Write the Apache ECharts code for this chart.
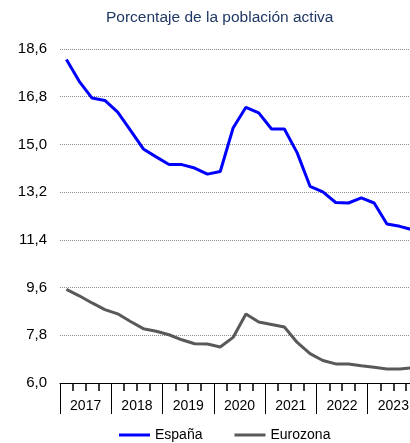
<!DOCTYPE html>
<html>
<head>
<meta charset="utf-8">
<script src="https://cdn.jsdelivr.net/npm/echarts@6/dist/echarts.min.js"></script>
<style>
  html, body { margin: 0; padding: 0; background: #fff; }
  #chart { width: 410px; height: 443px; }
</style>
</head>
<body>
<div id="chart"></div>
<script>
// Quarterly unemployment rate, 2017 Q1 – 2023 Q4 (% of labour force)
const years = ['2017', '2018', '2019', '2020', '2021', '2022', '2023'];
const quartersPerYear = 4;

const espana = [
  18.20, 17.38, 16.75, 16.66,
  16.22, 15.53, 14.83, 14.53,
  14.24, 14.24, 14.11, 13.88,
  13.98, 15.62, 16.40, 16.19,
  15.58, 15.58, 14.68, 13.42,
  13.21, 12.81, 12.79, 12.98,
  12.79, 12.00, 11.91, 11.78
];

const eurozona = [
  9.53, 9.29, 9.02, 8.77,
  8.61, 8.32, 8.05, 7.95,
  7.82, 7.63, 7.48, 7.47,
  7.36, 7.72, 8.60, 8.30,
  8.21, 8.11, 7.53, 7.11,
  6.85, 6.72, 6.72, 6.65,
  6.59, 6.53, 6.53, 6.57
];

const yMin = 6.0, yMax = 18.6, yStep = 1.8;

// each quarter sits in the middle of its slot on the time axis
const toPoints = arr => arr.map((v, i) => [i + 0.5, v]);
const nQuarters = years.length * quartersPerYear;

const chart = echarts.init(document.getElementById('chart'));
const font = "'Liberation Sans', Arial, sans-serif";

chart.setOption({
  animation: false,
  backgroundColor: '#ffffff',
  title: {
    text: 'Porcentaje de la población activa',
    left: 101,
    top: 5,
    textStyle: { color: '#203864', fontSize: 15.5, fontWeight: 'normal', fontFamily: font }
  },
  legend: {
    left: 114,
    top: 423,
    itemWidth: 31,
    itemHeight: 3,
    itemGap: 32,
    icon: 'rect',
    textStyle: { color: '#000', fontSize: 14, fontFamily: font },
    data: ['España', 'Eurozona']
  },
  grid: { left: 60, right: -9, top: 49, bottom: 60, outerBoundsMode: 'none' },
  xAxis: [
    {
      // time axis: long ticks at year boundaries, short ticks at quarters
      type: 'value',
      position: 'bottom',
      min: 0,
      max: nQuarters,
      interval: quartersPerYear,
      axisLine: { show: true, lineStyle: { color: '#000', width: 1 } },
      axisTick: { show: true, length: 31, lineStyle: { color: '#000', width: 1 } },
      minorTick: { show: true, splitNumber: quartersPerYear, length: 8, lineStyle: { color: '#000', width: 1.5 } },
      axisLabel: { show: false },
      splitLine: { show: false }
    },
    {
      // year names centred in each group
      type: 'category',
      position: 'bottom',
      data: years,
      axisLine: { show: false },
      axisTick: { show: false },
      axisLabel: { show: true, interval: 0, margin: 16, color: '#000', fontSize: 14, fontFamily: font }
    }
  ],
  yAxis: {
    type: 'value',
    min: yMin,
    max: yMax,
    interval: yStep,
    axisLine: { show: false },
    axisTick: { show: false },
    axisLabel: {
      margin: 13,
      color: '#000',
      fontSize: 15,
      fontFamily: font,
      formatter: v => v.toFixed(1).replace('.', ',')
    },
    splitLine: { show: true, lineStyle: { color: '#8c8c8c', width: 1, type: [1, 1] } }
  },
  series: [
    {
      name: 'España',
      type: 'line',
      xAxisIndex: 0,
      data: toPoints(espana),
      symbol: 'none',
      itemStyle: { color: '#0000ff' },
      lineStyle: { color: '#0000ff', width: 3 },
      z: 3
    },
    {
      name: 'Eurozona',
      type: 'line',
      xAxisIndex: 0,
      data: toPoints(eurozona),
      symbol: 'none',
      itemStyle: { color: '#595959' },
      lineStyle: { color: '#595959', width: 3 },
      z: 2
    }
  ]
});
</script>
</body>
</html>
